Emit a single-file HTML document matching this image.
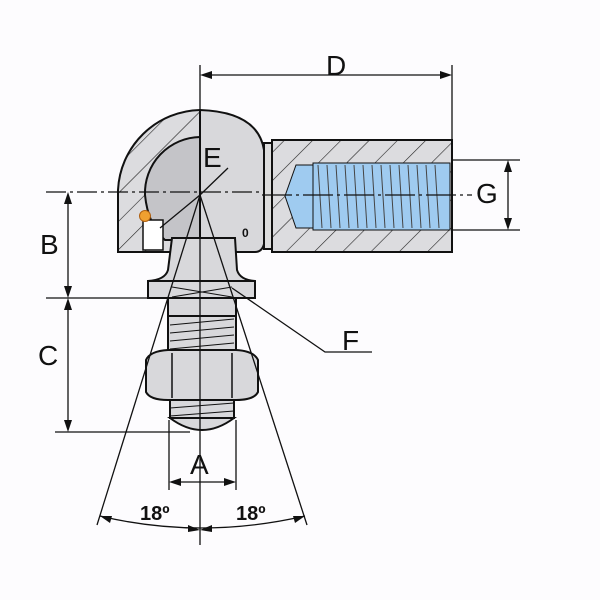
<!DOCTYPE html>
<html><head><style>body{margin:0;background:#fff}svg{display:block}</style></head><body>
<svg width="600" height="600" viewBox="0 0 600 600" xmlns="http://www.w3.org/2000/svg" font-family="Liberation Sans, sans-serif">
<defs>
<pattern id="h" width="20" height="20" patternUnits="userSpaceOnUse" patternTransform="rotate(45)"><rect width="20" height="20" fill="#dcdcdf"/><line x1="0" y1="0" x2="0" y2="20" stroke="#222" stroke-width="1.2"/></pattern>
</defs>
<rect width="600" height="600" fill="#fdfcfe"/>
<g stroke="#111" stroke-width="2" fill="#d8d8db">
<!-- housing -->
<rect x="272" y="140" width="180" height="112" fill="url(#h)"/>
<rect x="313" y="163" width="137" height="67" fill="#9fcbf0" stroke-width="1"/>
<path d="M313 165 L296 165 L285 196 L296 228 L313 228 Z" fill="#9fcbf0" stroke-width="1"/>
<g stroke="#444" stroke-width="1">
<path d="M318 165 l4 63 M327 165 l4 63 M336 165 l4 63 M345 165 l4 63 M354 165 l4 63 M363 165 l4 63 M372 165 l4 63 M381 165 l4 63 M390 165 l4 63 M399 165 l4 63 M408 165 l4 63 M417 165 l4 63 M426 165 l4 63 M435 165 l4 63"/>
</g>
<rect x="264" y="143" width="8" height="106" fill="#ddd"/>
<!-- ball head left hatched -->
<path d="M200 110 A84 84 0 0 0 118 190 L118 252 L200 252 Z" fill="url(#h)"/>
<path d="M200 137 A56 56 0 0 0 145 195 Q148 225 165 240 L200 240 Z" fill="#c4c4c8" stroke-width="2"/>
<path d="M200 110 Q258 112 264 150 L264 244 Q262 252 255 252 L200 252 Z" fill="#d8d8db"/>
<rect x="143" y="220" width="20" height="30" fill="#fff" stroke-width="1.5"/>
<!-- stud -->
<path d="M172 238 L235 238 L237 270 Q240 280 255 281 L255 298 L148 298 L148 281 Q165 280 168 270 Z"/>
<line x1="148" y1="281" x2="255" y2="281"/>
<rect x="168" y="298" width="68" height="18"/>
<rect x="168" y="316" width="68" height="34"/>
<path d="M170 325 l64 -6 M170 333 l64 -6 M170 341 l64 -6 M170 349 l64 -6" stroke-width="1"/>
<path d="M146 360 Q150 351 168 350 L236 350 Q254 351 258 360 L258 392 Q254 400 236 400 L168 400 Q150 400 146 392 Z"/>
<line x1="172" y1="353" x2="172" y2="398" stroke-width="1.5"/><line x1="232" y1="353" x2="232" y2="398" stroke-width="1.5"/>
<rect x="170" y="400" width="64" height="18"/>
<path d="M170 408 l64 -5 M170 416 l64 -5" stroke-width="1"/>
<path d="M170 418 Q202 442 234 418 Z"/>
<path d="M172 287 L232 297 M172 297 L232 287" stroke-width="1"/>
</g>
<circle cx="145" cy="216" r="5.5" fill="#f0a030" stroke="#b06010"/>
<text x="242" y="237" font-size="12" font-weight="bold" fill="#111">0</text>
<!-- lines -->
<g stroke="#111" stroke-width="1.3" fill="none">
<line x1="200" y1="65" x2="200" y2="545"/>
<line x1="452" y1="65" x2="452" y2="140"/>
<line x1="205" y1="75" x2="447" y2="75"/>
<line x1="46" y1="192" x2="262" y2="192" stroke-dasharray="20 4 3 4"/>
<line x1="262" y1="195" x2="472" y2="195" stroke-dasharray="30 4 3 4"/>
<line x1="46" y1="298" x2="148" y2="298"/>
<line x1="55" y1="432" x2="190" y2="432"/>
<line x1="68" y1="197" x2="68" y2="293"/><line x1="68" y1="303" x2="68" y2="427"/>
<line x1="452" y1="160" x2="520" y2="160"/><line x1="452" y1="230" x2="520" y2="230"/>
<line x1="508" y1="165" x2="508" y2="225"/>
<line x1="169" y1="420" x2="169" y2="490"/><line x1="236" y1="420" x2="236" y2="490"/>
<line x1="174" y1="482" x2="231" y2="482"/>
<line x1="200" y1="195" x2="97" y2="525"/><line x1="200" y1="195" x2="307" y2="525"/>
<path d="M100 516 Q200 540 305 516"/>
<line x1="200" y1="195" x2="228" y2="168"/><line x1="200" y1="195" x2="160" y2="228"/>
<path d="M232 288 L325 352 L372 352"/>
</g>
<g fill="#111">
<path d="M200 75 l12 -4 v8z"/><path d="M452 75 l-12 -4 v8z"/>
<path d="M68 192 l-4 12 h8z"/><path d="M68 298 l-4 -12 h8z"/><path d="M68 298 l-4 12 h8z"/><path d="M68 432 l-4 -12 h8z"/>
<path d="M508 160 l-4 12 h8z"/><path d="M508 230 l-4 -12 h8z"/>
<path d="M169 482 l12 -4 v8z"/><path d="M236 482 l-12 -4 v8z"/>
<path d="M100 516 l12 0 l-2 7z"/><path d="M305 516 l-12 0 l2 7z"/>
<path d="M200 530 l-12 -5 l0 7z"/><path d="M200 530 l12 -5 l0 7z"/>
</g>
<g font-size="28" fill="#111">
<text x="326" y="75">D</text><text x="203" y="167">E</text><text x="40" y="254">B</text>
<text x="38" y="365">C</text><text x="342" y="350">F</text><text x="476" y="203">G</text><text x="190" y="474">A</text>
<text x="140" y="520" font-size="20" font-weight="bold">18º</text><text x="236" y="520" font-size="20" font-weight="bold">18º</text>
</g>
</svg>
</body></html>
